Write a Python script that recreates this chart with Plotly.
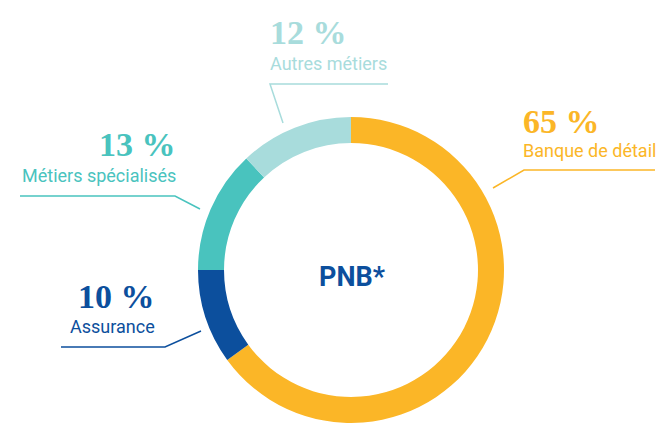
import plotly.graph_objects as go

labels = ["Banque de détail", "Assurance", "Métiers spécialisés", "Autres métiers"]
values = [65, 10, 13, 12]
colors = ["#FBB627", "#0C4F9D", "#49C3BE", "#A8DCDC"]
center_label = "PNB*"

W, H = 656, 423

def px(x):
    return x / W

def py(y):
    return 1 - y / H

fig = go.Figure(go.Pie(
    labels=labels, values=values, sort=False, direction="clockwise", rotation=0,
    hole=0.83, textinfo="none", hoverinfo="skip", showlegend=False,
    marker=dict(colors=colors, line=dict(width=0)),
    domain=dict(x=[px(351 - 153), px(351 + 153)], y=[0, (H - 270 + 153) / H]),
))

SERIF = "Liberation Serif"
SANS = "Roboto, sans-serif"

# label layout: (pct x, pct y, name y, anchor, line points)
layout_info = {
    "Banque de détail": dict(x=521, ya=121, yb=150, anchor="left",
                             pts=[(655, 170), (524, 170), (493, 188)]),
    "Assurance": dict(x=157, ya=296, yb=326, anchor="right",
                      pts=[(61, 347), (165, 347), (201, 331)]),
    "Métiers spécialisés": dict(x=178, ya=145, yb=175, anchor="right",
                                pts=[(20, 196), (175, 196), (200, 209)]),
    "Autres métiers": dict(x=268, ya=32, yb=63, anchor="left",
                           pts=[(388, 84), (270, 84), (283, 123)]),
}

annotations = []
shapes = []
for lab, val, col in zip(labels, values, colors):
    info = layout_info[lab]
    annotations.append(dict(
        x=px(info["x"]), y=py(info["ya"]), xref="paper", yref="paper",
        text=f"<b>{val} %</b>", showarrow=False, xanchor=info["anchor"], yanchor="middle",
        font=dict(family=SERIF, size=34, color=col)))
    annotations.append(dict(
        x=px(info["x"]), y=py(info["yb"]), xref="paper", yref="paper",
        text=lab, showarrow=False, xanchor=info["anchor"], yanchor="middle",
        font=dict(family=SANS, size=18, color=col)))
    pts = info["pts"]
    path = "M " + " L ".join(f"{px(a)},{py(b)}" for a, b in pts)
    shapes.append(dict(type="path", xref="paper", yref="paper", path=path,
                       line=dict(color=col, width=1.5)))

annotations.append(dict(
    x=px(352), y=py(277), xref="paper", yref="paper", text=f"<b>{center_label}</b>",
    showarrow=False, xanchor="center", yanchor="middle",
    font=dict(family=SANS, size=27, color="#0C4F9D")))

fig.update_layout(
    width=W, height=H, margin=dict(l=0, r=0, t=0, b=0),
    paper_bgcolor="white", plot_bgcolor="white",
    annotations=annotations, shapes=shapes,
)

fig.write_html("out.html", config={"displayModeBar": False},
               post_script="document.body.style.margin='0';")
